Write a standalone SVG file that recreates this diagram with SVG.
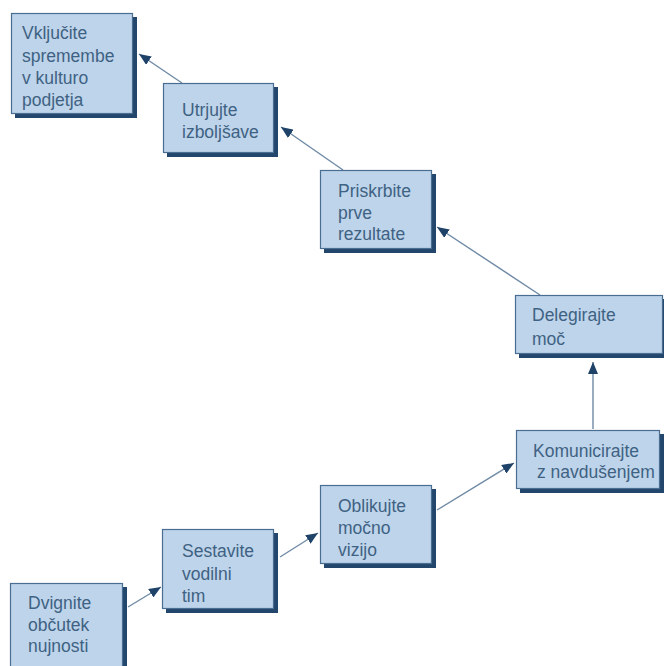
<svg xmlns="http://www.w3.org/2000/svg" width="664" height="666" viewBox="0 0 664 666">
  <defs>
    <marker id="head" viewBox="0 0 12 10" refX="12" refY="5" markerWidth="12" markerHeight="10" markerUnits="userSpaceOnUse" orient="auto">
      <path d="M0,0 L12,5 L0,10 Z" fill="#1f4268"/>
    </marker>
  </defs>
  <style>
    .shadow { fill: #23466d; }
    .box { fill: #bed4ea; stroke: #4a6d92; stroke-width: 1.2; }
    .label { font-family: "Liberation Sans", Arial, sans-serif; font-size: 17.5px; fill: #3e6283; }
    .link { stroke: #6f8aa5; stroke-width: 1.4; fill: none; marker-end: url(#head); }
  </style>
  <rect width="664" height="666" fill="#ffffff"/>

  <g id="connectors">
    <line class="link" x1="128" y1="607" x2="161" y2="587"/>
    <line class="link" x1="280" y1="557" x2="318" y2="533"/>
    <line class="link" x1="437" y1="510" x2="514" y2="463"/>
    <line class="link" x1="593" y1="429" x2="593" y2="362"/>
    <line class="link" x1="540" y1="295" x2="437" y2="227"/>
    <line class="link" x1="343" y1="170" x2="281" y2="127"/>
    <line class="link" x1="182" y1="83" x2="139" y2="54"/>
  </g>

  <g id="node-vkljucite">
    <rect class="shadow" x="15" y="17" width="122" height="101"/>
    <rect class="box" x="11.5" y="13.5" width="121" height="100"/>
    <text class="label" x="22" y="39">Vključite</text>
    <text class="label" x="22" y="62">spremembe</text>
    <text class="label" x="22" y="84">v kulturo</text>
    <text class="label" x="22" y="106">podjetja</text>
  </g>

  <g id="node-utrjujte">
    <rect class="shadow" x="167" y="87" width="111" height="70"/>
    <rect class="box" x="163.5" y="83.5" width="110" height="69"/>
    <text class="label" x="182" y="116">Utrjujte</text>
    <text class="label" x="182" y="138">izboljšave</text>
  </g>

  <g id="node-priskrbite">
    <rect class="shadow" x="324" y="174" width="112" height="79"/>
    <rect class="box" x="320.5" y="170.5" width="111" height="78"/>
    <text class="label" x="338" y="197">Priskrbite</text>
    <text class="label" x="338" y="219">prve</text>
    <text class="label" x="338" y="240">rezultate</text>
  </g>

  <g id="node-delegirajte">
    <rect class="shadow" x="519" y="299" width="150" height="59"/>
    <rect class="box" x="515.5" y="295.5" width="147" height="58"/>
    <text class="label" x="532" y="321">Delegirajte</text>
    <text class="label" x="532" y="345">moč</text>
  </g>

  <g id="node-komunicirajte">
    <rect class="shadow" x="520" y="434" width="150" height="59"/>
    <rect class="box" x="516.5" y="430.5" width="143" height="58"/>
    <text class="label" x="533" y="457">Komunicirajte</text>
    <text class="label" x="537" y="478">z navdušenjem</text>
  </g>

  <g id="node-oblikujte">
    <rect class="shadow" x="324" y="489" width="112" height="79"/>
    <rect class="box" x="320.5" y="485.5" width="111" height="78"/>
    <text class="label" x="338" y="512">Oblikujte</text>
    <text class="label" x="338" y="534">močno</text>
    <text class="label" x="338" y="556">vizijo</text>
  </g>

  <g id="node-sestavite">
    <rect class="shadow" x="166" y="533" width="112" height="80"/>
    <rect class="box" x="162.5" y="529.5" width="111" height="79"/>
    <text class="label" x="182" y="557">Sestavite</text>
    <text class="label" x="182" y="580">vodilni</text>
    <text class="label" x="182" y="602">tim</text>
  </g>

  <g id="node-dvignite">
    <rect class="shadow" x="14" y="587" width="113" height="84"/>
    <rect class="box" x="10.5" y="583.5" width="112" height="90"/>
    <text class="label" x="28" y="609">Dvignite</text>
    <text class="label" x="28" y="631">občutek</text>
    <text class="label" x="28" y="652">nujnosti</text>
  </g>
</svg>
